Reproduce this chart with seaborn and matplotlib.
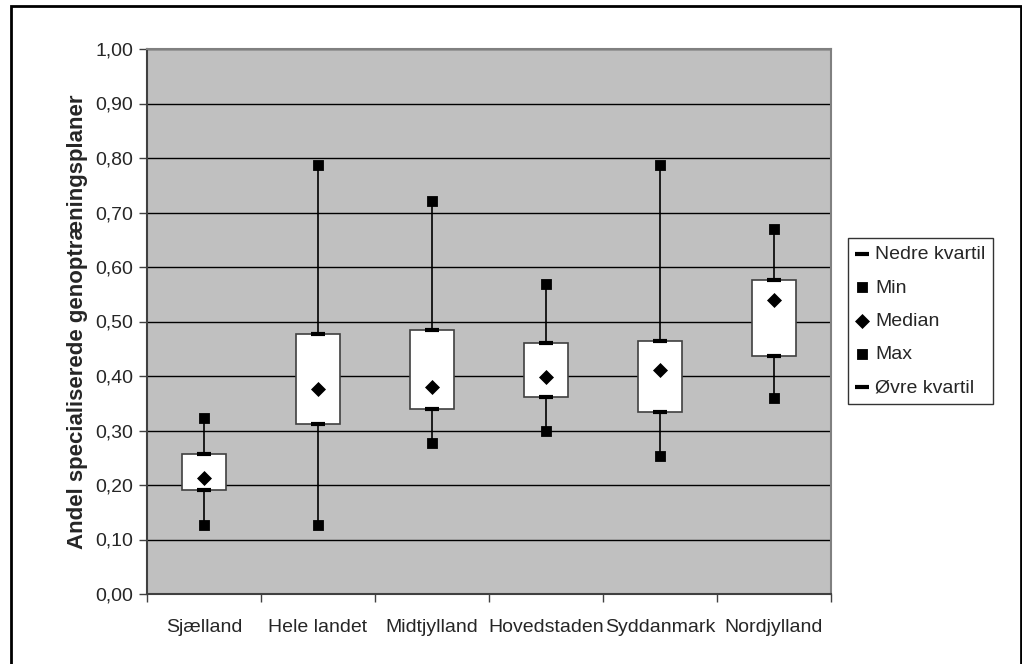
import pandas as pd
import seaborn as sns
import matplotlib.pyplot as plt
from matplotlib.patches import Rectangle
from matplotlib.ticker import FuncFormatter

regions = ["Sjælland", "Hele landet", "Midtjylland", "Hovedstaden", "Syddanmark", "Nordjylland"]
nedre_kvartil = [0.191, 0.312, 0.339, 0.362, 0.334, 0.437]
minimum = [0.126, 0.126, 0.277, 0.300, 0.254, 0.360]
median = [0.212, 0.376, 0.380, 0.398, 0.411, 0.539]
maximum = [0.323, 0.788, 0.722, 0.568, 0.788, 0.669]
oevre_kvartil = [0.256, 0.477, 0.484, 0.461, 0.464, 0.576]

df = pd.DataFrame({"region": regions, "q1": nedre_kvartil, "min": minimum,
                   "median": median, "max": maximum, "q3": oevre_kvartil})
df["pos"] = range(len(df))

sns.set_style("white")
plt.rcParams["font.family"] = ["Liberation Sans", "DejaVu Sans"]

fig = plt.figure(figsize=(10.22, 6.64), dpi=100)
ax = fig.add_axes([147 / 1022, 1 - 594 / 664, (831 - 147) / 1022, (594 - 49) / 664])
ax.set_facecolor("#C0C0C0")

# high-low line, then the quartile box on top
ax.vlines(df["pos"], df["min"], df["max"], color="black", lw=1.2, zorder=2)
ax.bar(df["pos"], df["q3"] - df["q1"], bottom=df["q1"], width=0.38,
       color="white", edgecolor="#404040", linewidth=1.2, zorder=3)

sns.scatterplot(data=df, x="pos", y="q1", marker="_", s=110, linewidth=3,
                color="black", ax=ax, zorder=4, label="Nedre kvartil")
sns.scatterplot(data=df, x="pos", y="min", marker="s", s=55, color="black",
                edgecolor="black", ax=ax, zorder=4, label="Min")
sns.scatterplot(data=df, x="pos", y="median", marker="D", s=50, color="black",
                edgecolor="black", ax=ax, zorder=4, label="Median")
sns.scatterplot(data=df, x="pos", y="max", marker="s", s=55, color="black",
                edgecolor="black", ax=ax, zorder=4, label="Max")
sns.scatterplot(data=df, x="pos", y="q3", marker="_", s=110, linewidth=3,
                color="black", ax=ax, zorder=4, label="Øvre kvartil")

ax.set_xlim(-0.5, len(regions) - 0.5)
ax.set_ylim(0, 1)
ax.set_yticks([i / 10 for i in range(11)])
ax.yaxis.set_major_formatter(FuncFormatter(lambda v, p: f"{v:.2f}".replace(".", ",")))
ax.grid(axis="y", color="black", lw=1)
ax.set_axisbelow(True)

ax.set_xticks(range(len(regions)), regions)
ax.set_xticks([i - 0.5 for i in range(len(regions) + 1)], minor=True)
ax.tick_params(axis="x", which="major", length=0, pad=18, labelsize=14)
ax.tick_params(axis="x", which="minor", length=6, width=1, color="#404040", direction="out", bottom=True)
ax.tick_params(axis="y", length=6, width=1, color="#404040", direction="out", left=True, pad=4, labelsize=14)

ax.set_xlabel("")
ax.set_ylabel("Andel specialiserede genoptræningsplaner", fontsize=16, fontweight="bold", labelpad=5)

for side in ["left", "bottom"]:
    ax.spines[side].set_color("#404040")
    ax.spines[side].set_linewidth(1.5)
for side in ["top", "right"]:
    ax.spines[side].set_color("#808080")
    ax.spines[side].set_linewidth(1.5)

leg = ax.legend(loc="upper left", bbox_to_anchor=(848 / 1022, 1 - 238 / 664),
                bbox_transform=fig.transFigure, frameon=True, fancybox=False,
                fontsize=14, handlelength=0.6, handletextpad=0.4,
                labelspacing=0.8, borderpad=0.4, borderaxespad=0)
leg.get_frame().set_edgecolor("black")
leg.get_frame().set_linewidth(1)

# outer chart border (bottom edge runs off the image)
fig.patches.append(Rectangle((11 / 1022, -3 / 664), 1010 / 1022, 661 / 664,
                             transform=fig.transFigure, fill=False,
                             edgecolor="black", linewidth=2))

fig.savefig("out.png", dpi=100)
